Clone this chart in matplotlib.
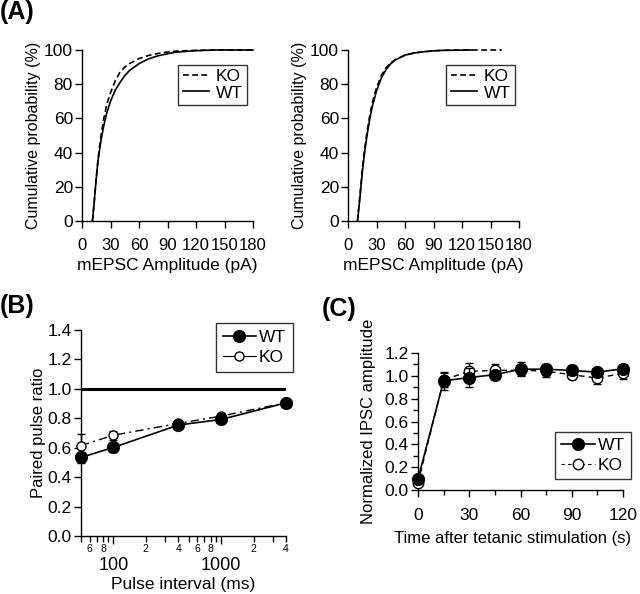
import numpy as np
import matplotlib
matplotlib.use('Agg')
import matplotlib.pyplot as plt
from matplotlib.lines import Line2D
from matplotlib.ticker import FixedLocator, FuncFormatter, MultipleLocator

plt.rcParams['font.family'] = ['Liberation Sans', 'DejaVu Sans']
plt.rcParams['font.size'] = 12
plt.rcParams['axes.linewidth'] = 1.0

# ---- Panel A: cumulative mEPSC amplitude (left and right)
a1_ko_x = [11, 13, 15, 17, 20, 23, 26, 30, 35, 40, 45, 50, 60, 70, 80, 90, 100, 120, 140, 180]
a1_ko_y = [0, 12, 25, 37, 50, 60, 68, 75, 82, 87, 90, 92, 95, 96.8, 98, 98.8, 99.4, 99.8, 100, 100]
a1_wt_x = [11, 13, 15, 17, 20, 23, 26, 30, 35, 40, 45, 50, 60, 70, 80, 90, 100, 120, 140, 180]
a1_wt_y = [0, 12, 25, 36, 47, 56, 63, 70, 76.5, 81, 85, 88, 92, 94.8, 96.6, 97.8, 98.8, 99.6, 100, 100]

a2_ko_x = [10, 13, 15, 17, 20, 23, 26, 30, 35, 40, 45, 50, 60, 70, 80, 90, 100, 120, 162]
a2_ko_y = [0, 18, 30, 40, 52, 62, 70, 78, 85, 89.5, 92.5, 94.5, 97, 98.3, 99, 99.5, 99.8, 100, 100]
a2_wt_x = [10, 13, 15, 17, 20, 23, 26, 30, 35, 40, 45, 50, 60, 70, 80, 90, 100, 130]
a2_wt_y = [0, 16, 28, 38, 50, 60, 68, 76, 83.5, 88.5, 92, 94.2, 97, 98.3, 99, 99.5, 99.8, 100]

# ---- Panel B: paired pulse ratio
b_x = [50, 100, 400, 1000, 4000]
b_wt = [0.534, 0.602, 0.754, 0.792, 0.905]
b_wt_err = [0.035, 0.03, 0.02, 0.018, 0.012]
b_ko = [0.615, 0.685, 0.765, 0.815, 0.905]
b_ko_err = [0.075, 0.03, 0.02, 0.015, 0.01]

# ---- Panel C: normalized IPSC amplitude after tetanus
c_x = [0, 15, 30, 45, 60, 75, 90, 105, 120]
c_wt = [0.096, 0.956, 0.985, 1.01, 1.058, 1.058, 1.047, 1.032, 1.062]
c_wt_err = [0.02, 0.08, 0.08, 0.03, 0.06, 0.05, 0.04, 0.02, 0.03]
c_ko = [0.064, 0.965, 1.04, 1.047, 1.05, 1.04, 1.01, 0.98, 1.023]
c_ko_err = [0.02, 0.06, 0.07, 0.06, 0.04, 0.05, 0.04, 0.05, 0.05]

W, H = 640, 594
fig = plt.figure(figsize=(W / 100, H / 100), dpi=100)

TICK_FS = 12.5
LAB_FS = 12.5


def px_axes(l, r, t, b):
    return fig.add_axes([l / W, 1 - b / H, (r - l) / W, (b - t) / H])


def style(ax):
    for s in ['top', 'right']:
        ax.spines[s].set_visible(False)
    ax.tick_params(direction='out', length=5, width=1, labelsize=TICK_FS)
    ax.tick_params(axis='y', pad=1.5)


def boxed_legend(ax, handles, labels, right, top, **kw):
    lg = ax.legend(handles, labels, loc='upper right',
                   bbox_to_anchor=(right / W, 1 - top / H),
                   bbox_transform=fig.transFigure, borderaxespad=0,
                   frameon=True, fancybox=False, edgecolor='black',
                   fontsize=12.5, **kw)
    lg.get_frame().set_linewidth(1.0)
    return lg


ko_dash = (0, (6, 3, 1.5, 3))

# (A) left and right
for (l, r), kx, ky, wx, wy, (lr, lt) in [
        ((82, 253), a1_ko_x, a1_ko_y, a1_wt_x, a1_wt_y, (247, 65)),
        ((348, 519), a2_ko_x, a2_ko_y, a2_wt_x, a2_wt_y, (515, 65))]:
    ax = px_axes(l, r, 50, 221)
    style(ax)
    k, = ax.plot(kx, ky, color='black', lw=1.2, ls=(0, (3.5, 2)), clip_on=False)
    w, = ax.plot(wx, wy, color='black', lw=1.2, clip_on=False)
    ax.set_xlim(0, 180)
    ax.set_ylim(0, 100)
    ax.set_xticks(range(0, 181, 30))
    ax.set_yticks(range(0, 101, 20))
    ax.tick_params(axis='x', pad=7, labelsize=12)
    ax.set_xlabel('mEPSC Amplitude (pA)', fontsize=LAB_FS, labelpad=4)
    ax.set_ylabel('Cumulative probability (%)', fontsize=11.5, labelpad=2)
    boxed_legend(ax, [k, w], ['KO', 'WT'], lr, lt, handlelength=1.5,
                 handletextpad=0.4, borderpad=0.25, labelspacing=0.05)

# (B) paired pulse ratio
ax = px_axes(81, 286, 330, 536)
style(ax)
ax.set_xscale('log')
ax.axhline(1.0, color='black', lw=2.2)
ax.errorbar(b_x, b_ko, yerr=b_ko_err, color='black', lw=1.0, ls=ko_dash,
            marker='o', mfc='white', mec='black', ms=6.5, capsize=3,
            elinewidth=1, clip_on=False, zorder=3)
ax.errorbar(b_x, b_wt, yerr=b_wt_err, color='black', lw=1.2, ls='-',
            marker='o', mfc='black', mec='black', ms=8.5, capsize=3,
            elinewidth=1, clip_on=False, zorder=4)
ax.set_xlim(50, 4000)
ax.set_ylim(0, 1.4)
ax.set_yticks(np.arange(0, 1.41, 0.2))
ax.yaxis.set_major_formatter(FuncFormatter(lambda v, p: f'{v:.1f}'))
ax.xaxis.set_major_locator(FixedLocator([100, 1000]))
ax.xaxis.set_major_formatter(FuncFormatter(lambda v, p: f'{int(v)}'))
minor = [50, 60, 70, 80, 90, 200, 300, 400, 500, 600, 700, 800, 900, 2000, 3000, 4000]
minor_lab = {60: '6', 80: '8', 200: '2', 400: '4', 600: '6', 800: '8', 2000: '2', 4000: '4'}
ax.xaxis.set_minor_locator(FixedLocator(minor))
ax.xaxis.set_minor_formatter(FuncFormatter(lambda v, p: minor_lab.get(int(round(v)), '')))
ax.tick_params(axis='x', which='major', length=5.5, pad=9.5, labelsize=13)
ax.tick_params(axis='x', which='minor', direction='out', length=4, width=1, pad=1.5, labelsize=7.5)
ax.set_xlabel('Pulse interval (ms)', fontsize=12.5, labelpad=2)
ax.set_ylabel('Paired pulse ratio', fontsize=12, labelpad=1)
hb = [Line2D([], [], color='black', lw=1.2, marker='o', mfc='black', ms=8.5),
      Line2D([], [], color='black', lw=0.8, marker='o', mfc='white', ms=6.5)]
boxed_legend(ax, hb, ['WT', 'KO'], 293, 323, handlelength=1.9,
             handletextpad=0.2, borderpad=0.4, labelspacing=0.3)

# (C) IPSC after tetanus
ax = px_axes(418, 623, 353, 490)
style(ax)
ax.errorbar(c_x, c_ko, yerr=c_ko_err, color='black', lw=1.0, ls=(0, (4, 3)),
            marker='o', mfc='white', mec='black', ms=7.5, capsize=3,
            elinewidth=1, clip_on=False, zorder=3)
ax.errorbar(c_x, c_wt, yerr=c_wt_err, color='black', lw=1.2, ls='-',
            marker='o', mfc='black', mec='black', ms=8.5, capsize=3,
            elinewidth=1, clip_on=False, zorder=4)
ax.set_xlim(0, 120)
ax.set_ylim(0, 1.2)
ax.set_xticks(range(0, 121, 30))
ax.xaxis.set_minor_locator(MultipleLocator(15))
ax.set_yticks(np.arange(0, 1.21, 0.2))
ax.yaxis.set_minor_locator(MultipleLocator(0.1))
ax.yaxis.set_major_formatter(FuncFormatter(lambda v, p: f'{v:.1f}'))
ax.tick_params(which='major', length=5)
ax.tick_params(which='minor', direction='out', length=3.5, width=1)
ax.tick_params(axis='x', which='major', pad=8)
ax.set_xlabel('Time after tetanic stimulation (s)', fontsize=12, labelpad=6, x=0.46)
ax.set_ylabel('Normalized IPSC amplitude', fontsize=12, labelpad=6)
hc = [Line2D([], [], color='black', lw=1.2, marker='o', mfc='black', ms=8.5),
      Line2D([], [], color='black', lw=0.8, ls=(0, (3, 3)), marker='o', mfc='white', ms=7.5)]
boxed_legend(ax, hc, ['WT', 'KO'], 631, 432, handlelength=2.0,
             handletextpad=0.15, borderpad=0.35, labelspacing=0.25)

# panel letters
for txt, x, y in [('(A)', 0, 0), ('(B)', 0, 294), ('(C)', 322, 297)]:
    fig.text(x / W, 1 - y / H, txt, fontsize=18, fontweight='bold', va='top', ha='left')

fig.savefig('out.png', dpi=100)
